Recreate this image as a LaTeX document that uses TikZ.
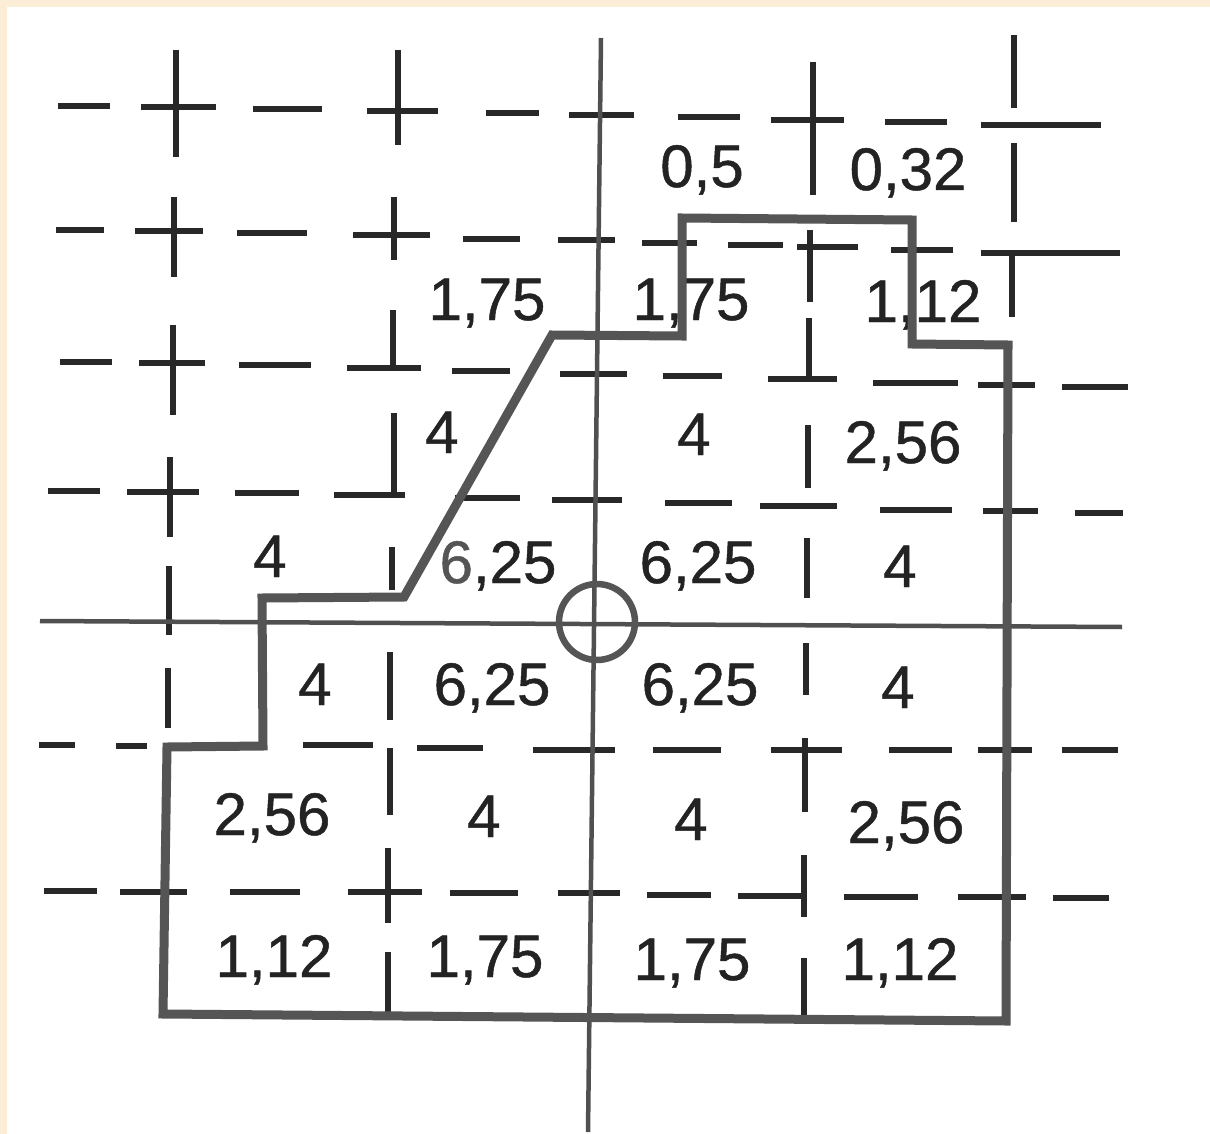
\documentclass[tikz,border=0pt]{standalone}
\usepackage{fontspec}
\setmainfont{Liberation Sans}
\newfontfamily\numfont{Liberation Sans}[FakeBold=0.8]
\definecolor{dashcol}{RGB}{40,40,40}
\definecolor{axcol}{RGB}{80,80,80}
\definecolor{polycol}{RGB}{85,85,85}
\definecolor{txtcol}{RGB}{35,35,35}
\definecolor{beige}{RGB}{252,238,214}
\begin{document}
\begin{tikzpicture}[x=1pt,y=-1pt,
  dsh/.style={line width=6pt, draw=dashcol},
  axisline/.style={line width=4.5pt, draw=axcol},
  outline/.style={line width=9pt, draw=polycol, line join=miter},
  val/.style={anchor=base, inner sep=0pt, text=txtcol, font=\numfont\fontsize{60}{72}\selectfont}]
\useasboundingbox (0,0) rectangle (1210,1134);
\fill[white] (0,0) rectangle (1210,1134);
\fill[beige] (0,0) rectangle (1210,7);
\fill[beige] (0,0) rectangle (7,1134);
% horizontal dash segments
\foreach \a/\b/\y in {
  58/110/106, 141/216/107, 253/322/109, 367/438/111, 486/539/113, 569/634/115, 678/740/117, 771/844/120, 885/947/122, 981/1101/125,
  56/104/230, 135/203/231, 237/307/233, 353/430/235, 463/520/239, 558/615/240, 642/697/243, 728/783/245, 797/858/247, 891/953/250, 981/1120/253,
  60/112/362, 139/205/363, 239/311/365, 347/421/368, 452/510/371, 560/627/374, 663/722/376, 768/837/379, 873/958/383, 978/1035/385, 1062/1128/387,
  48/100/491, 127/199/492, 235/299/493, 334/405/495, 455/520/498, 552/622/500, 665/732/503, 760/837/506, 880/952/510, 983/1038/511, 1075/1123/513,
  39/75/745, 116/147/746, 303/373/745, 417/483/748, 533/615/750, 653/721/750, 771/842/750, 889/952/750, 978/1032/750, 1062/1118/750,
  44/97/891, 120/187/892, 230/300/892, 348/422/892, 450/518/893, 558/620/893, 647/711/895, 738/806/896, 844/918/897, 958/1026/897, 1053/1109/898}
  \draw[dsh] (\a,\y) -- (\b,\y);
% vertical dash segments
\foreach \x/\a/\b in {
  176/50/157, 174/197/277, 173/325/415, 170/457/537, 169/566/635, 168/668/728,
  398/50/145, 394/197/260, 393/310/368, 394/413/495, 392/547/590, 390/652/720, 390/748/815, 388/848/923, 388/952/1012,
  813/62/195, 810/230/302, 809/318/379, 808/425/488, 807/538/598, 806/643/695, 805/738/812, 804/855/917, 804/958/1018,
  1014/35/108, 1014/143/222, 1012/255/317}
  \draw[dsh] (\x,\a) -- (\x,\b);
% axes
\coordinate (vtop) at (601,38);
\coordinate (vbot) at (588,1132);
\coordinate (hleft) at (40,621);
\coordinate (hright) at (1122,627);
\draw[axisline] (vtop) -- (vbot);
\draw[axisline] (hleft) -- (hright);
\draw[line width=6.5pt, draw=polycol] (597,622) circle (38pt);
% values
\foreach \x/\y/\t [count=\i] in {
  702/187/{0,5}, 908/190/{0,32},
  487/320/{1,75}, 691/320/{1,75}, 923/322/{1,12},
  442/453/{4}, 694/455/{4}, 903/463/{2,56},
  270/577/{4}, 498/583/{{\color{polycol}6},25}, 698/583/{6,25}, 900/587/{4},
  315/705/{4}, 492/705/{6,25}, 700/705/{6,25}, 898/708/{4},
  272/835/{2,56}, 484/837/{4}, 691/840/{4}, 906/843/{2,56},
  274/977/{1,12}, 485/977/{1,75}, 692/980/{1,75}, 900/980/{1,12}}
  \node[val] (t\i) at (\x,\y) {\t};
% outline of the area
\draw[outline] (163,1014) -- (1006,1021) -- (1008,345) -- (912,344) -- (912,220) -- (682,218) -- (682,336) -- (552,335) -- (404,597) -- (262,598) -- (263,746) -- (167,747) -- cycle;
\end{tikzpicture}
\end{document}
